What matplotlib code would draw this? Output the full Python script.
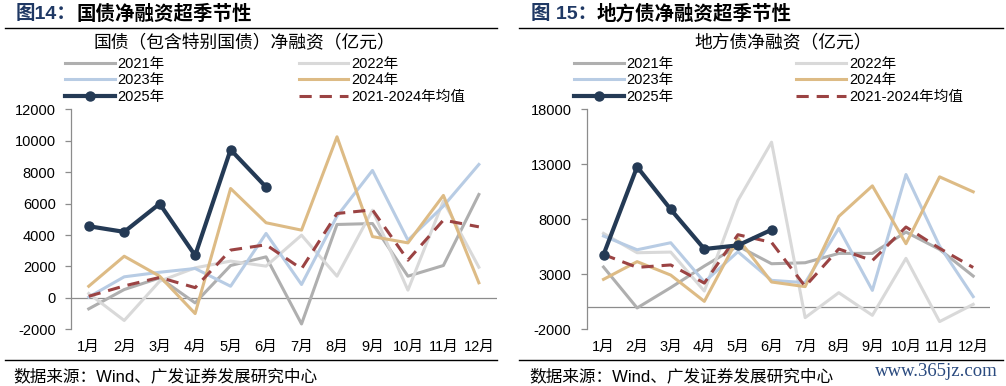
import matplotlib.pyplot as plt
import numpy as np

plt.rcParams['font.family'] = ['Liberation Sans', 'Noto Sans CJK SC']
plt.rcParams['axes.unicode_minus'] = False

months = ['1月', '2月', '3月', '4月', '5月', '6月', '7月', '8月', '9月', '10月', '11月', '12月']
years = ['2021年', '2022年', '2023年', '2024年', '2025年', '2021-2024年均值']

# 国债净融资（亿元）
gz_2021 = [-700, 530, 1270, -320, 2060, 2610, -1660, 4670, 4730, 1380, 2060, 6580]
gz_2022 = [280, -1440, 1060, 1910, 2340, 2020, 3990, 1380, 5580, 490, 6160, 1950]
gz_2023 = [50, 1340, 1630, 1870, 740, 4100, 850, 5200, 8110, 3670, 5840, 8490]
gz_2024 = [740, 2650, 1380, -1000, 6960, 4780, 4310, 10250, 3900, 3500, 6520, 960]
gz_2025 = [4560, 4200, 5990, 2700, 9430, 7050]
gz_avg = [100, 760, 1300, 650, 3040, 3380, 1850, 5370, 5600, 2400, 4950, 4520]

# 地方债净融资（亿元）
df_2021 = [3660, -60, 1790, 3750, 5570, 3960, 4050, 4900, 4900, 6840, 5260, 2840]
df_2022 = [6720, 4960, 5020, 1480, 9710, 15010, -940, 1330, -730, 4450, -1300, 270]
df_2023 = [6480, 5230, 5870, 2300, 5050, 2450, 2240, 7170, 1540, 12070, 5570, 970]
df_2024 = [2540, 4150, 2930, 540, 6260, 2300, 1880, 8260, 11040, 5780, 11860, 10500]
df_2025 = [4780, 12770, 8900, 5300, 5630, 7050]
df_avg = [4800, 3630, 3850, 2200, 6600, 5900, 1900, 5300, 4250, 7300, 5360, 3620]

colors = ['#AFAFAF', '#D9D9D9', '#B8CCE4', '#DDBB85', '#243A55', '#9B4343']

W, H = 1006, 386
fig = plt.figure(figsize=(W / 100, H / 100), dpi=100)


def fx(x):
    return x / W


def fy(y):
    return 1 - y / H


def panel(left, right, ylim, yticks, series, subtitle, cx, leg_x, colsp):
    ax = fig.add_axes([fx(left), fy(329.3), fx(right - left), fy(109.3) - fy(329.3)])
    x = np.arange(12)
    lines = []
    for i in range(4):
        l, = ax.plot(x, series[i], color=colors[i], lw=2.2, zorder=2)
        lines.append(l)
    lavg, = ax.plot(x, series[5], color=colors[5], lw=2.2, linestyle=(0, (4, 2.6)), zorder=3)
    l25, = ax.plot(np.arange(len(series[4])), series[4], color=colors[4], lw=3, marker='o',
                   markersize=6.5, zorder=4)
    ax.axhline(0, color='#8C8C8C', lw=0.9, zorder=1)
    ax.set_xlim(-0.5, 11.5)
    ax.set_ylim(*ylim)
    ax.set_yticks(yticks)
    ax.set_xticks(x)
    ax.set_xticklabels(months)
    ax.tick_params(axis='x', length=0, pad=8, labelsize=10.5)
    ax.tick_params(axis='y', length=4, width=0.9, color='#8C8C8C', pad=7, labelsize=10.5)
    for s in ['top', 'right', 'bottom']:
        ax.spines[s].set_visible(False)
    ax.spines['left'].set_color('#8C8C8C')
    ax.spines['left'].set_linewidth(0.9)

    handles = [lines[0], lines[2], l25, lines[1], lines[3], lavg]
    labels = [years[0], years[2], years[4], years[1], years[3], years[5]]
    fig.legend(handles, labels, loc='upper left', bbox_to_anchor=(fx(leg_x), fy(57)),
               bbox_transform=fig.transFigure, ncol=2, frameon=False, fontsize=10.5,
               handlelength=3.4, handletextpad=0.2, columnspacing=colsp,
               labelspacing=0.16, borderpad=0, borderaxespad=0)

    fig.text(fx(cx), fy(43), subtitle, fontsize=12.8, ha='center', va='center',
             family=['Noto Sans CJK SC'])
    return ax


panel(71, 496.6, (-2000, 12000), range(-2000, 12001, 2000),
      [gz_2021, gz_2022, gz_2023, gz_2024, gz_2025, gz_avg],
      '国债（包含特别国债）净融资（亿元）', 244, 65, 9.2)
panel(586.7, 990, (-2000, 18000), range(-2000, 18001, 5000),
      [df_2021, df_2022, df_2023, df_2024, df_2025, df_avg],
      '地方债净融资（亿元）', 783, 574, 8.4)

# 标题
fig.text(fx(16), fy(14), '图14：', fontsize=14, weight='bold', color='#1F3864', va='center')
fig.text(fx(77), fy(14), '国债净融资超季节性', fontsize=14, weight='bold', color='black', va='center')
fig.text(fx(531), fy(14), '图 15：', fontsize=14, weight='bold', color='#1F3864', va='center')
fig.text(fx(597), fy(14), '地方债净融资超季节性', fontsize=14, weight='bold', color='black', va='center')

# 分隔线
for x0, x1 in [(5, 497), (519, 1003)]:
    fig.add_artist(plt.Line2D([fx(x0), fx(x1)], [fy(28), fy(28)], color='black', lw=1,
                              transform=fig.transFigure))
    fig.add_artist(plt.Line2D([fx(x0), fx(x1)], [fy(360), fy(360)], color='black', lw=1,
                              transform=fig.transFigure))

fig.text(fx(13), fy(376), '数据来源：Wind、广发证券发展研究中心', fontsize=12, va='center')
fig.text(fx(529), fy(376), '数据来源：Wind、广发证券发展研究中心', fontsize=12, va='center')
fig.text(fx(998), fy(372), 'www.365jz.com', fontsize=13.5, ha='right', va='center',
         color='#2A4A7F', family='Liberation Serif')

fig.savefig('out.png', dpi=100)
